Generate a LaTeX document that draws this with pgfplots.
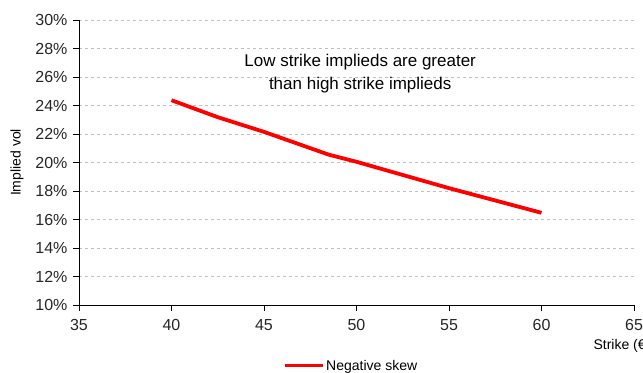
\documentclass[border=0pt]{standalone}
\usepackage{fontspec}
\setmainfont{Liberation Sans}
\usepackage{pgfplots}
\pgfplotsset{compat=1.18}
\begin{document}
\begin{tikzpicture}
\begin{axis}[
  scale only axis, width=555bp, height=285bp,
  xmin=35, xmax=65, ymin=10, ymax=30,
  xtick={35,40,...,65}, ytick={10,12,...,30},
  axis lines=left, axis line style={-, black, line width=0.8bp},
  tick align=outside, major tick length=6bp, tick style={black, line width=0.8bp},
  ymajorgrids, grid style={dash pattern=on 3bp off 3bp, black!25, line width=0.8bp},
  yticklabel={\pgfmathprintnumber{\tick}\%},
  /pgf/number format/assume math mode=true,
  ticklabel style={font=\fontsize{16bp}{19bp}\selectfont, text=black!85},
  yticklabel style={xshift=-2bp},
  xticklabel style={yshift=-5bp},
  ylabel={Implied vol},
  ylabel style={at={(axis description cs:-0.1117,0.5)}, anchor=center, font=\fontsize{14bp}{16bp}\selectfont},
  xlabel={Strike (€)},
  xlabel style={at={(axis description cs:1,0)}, anchor=west, xshift=-44bp, yshift=-41bp, font=\fontsize{14bp}{16bp}\selectfont},
  legend style={at={(axis description cs:0.3676,-0.2140)}, anchor=west, draw=none, fill=none, inner sep=0pt, font=\fontsize{14bp}{16bp}\selectfont},
  legend image code/.code={\draw[#1, line width=3bp] (0bp,0bp) -- (38bp,0bp);},
  clip=false,
]
\addplot[red, line width=3.8bp] coordinates {
  (40,24.37) (42.5,23.18) (45,22.15) (48.5,20.55) (50,20.05) (55,18.2) (60,16.47)
};
\addlegendentry{Negative skew}
\node[align=center, font=\fontsize{17bp}{23bp}\selectfont] at (axis cs:50.2,26.25) {Low strike implieds are greater\\than high strike implieds};
\end{axis}
\pgfresetboundingbox
\useasboundingbox (-79bp,-68bp) rectangle (564bp,305bp);
\end{tikzpicture}
\end{document}
